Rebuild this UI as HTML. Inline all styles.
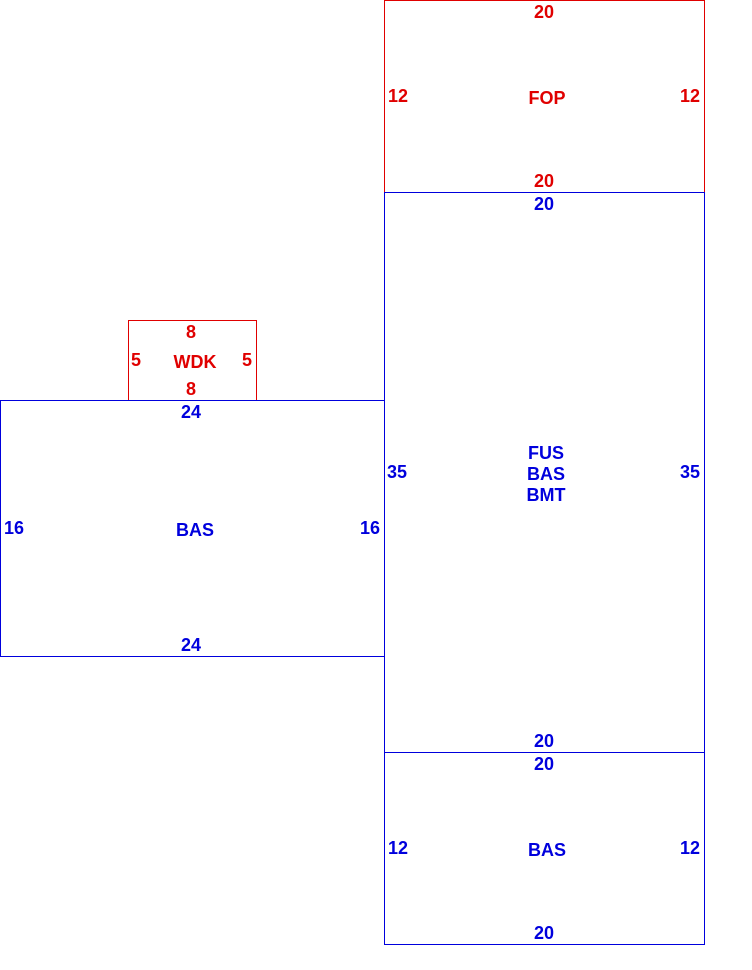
<!DOCTYPE html>
<html><head><style>
html,body{margin:0;padding:0;background:#fff;}
svg{display:block;}
text{font-family:"Liberation Sans",Arial,sans-serif;font-weight:bold;font-size:18px;text-anchor:middle;dominant-baseline:central;}
.r{fill:#e00000;} .b{fill:#0000dd;}
</style></head><body>
<svg width="752" height="970" xmlns="http://www.w3.org/2000/svg">
<g fill="none" stroke-width="1" shape-rendering="crispEdges">
<rect x="384.5" y="0.5" width="320" height="192" stroke="#e00000"/>
<rect x="128.5" y="320.5" width="128" height="80" stroke="#e00000"/>
<rect x="384.5" y="192.5" width="320" height="560" stroke="#0000dd"/>
<rect x="384.5" y="752.5" width="320" height="192" stroke="#0000dd"/>
<rect x="0.5" y="400.5" width="384" height="256" stroke="#0000dd"/>
</g>
<g class="r">
<text x="544" y="12">20</text><text x="398" y="96">12</text><text x="547" y="98">FOP</text><text x="690" y="96">12</text><text x="544" y="181">20</text>
<text x="191" y="332">8</text><text x="136" y="360">5</text><text x="195" y="362">WDK</text><text x="247" y="360">5</text><text x="191" y="389">8</text>
</g>
<g class="b">
<text x="544" y="204">20</text><text x="397" y="472">35</text><text x="690" y="472">35</text>
<text x="546" y="453">FUS</text><text x="546" y="474">BAS</text><text x="546" y="495">BMT</text>
<text x="544" y="741">20</text>
<text x="544" y="764">20</text><text x="398" y="848">12</text><text x="547" y="850">BAS</text><text x="690" y="848">12</text><text x="544" y="933">20</text>
<text x="191" y="412">24</text><text x="14" y="528">16</text><text x="195" y="530">BAS</text><text x="370" y="528">16</text><text x="191" y="645">24</text>
</g>
</svg>
</body></html>
